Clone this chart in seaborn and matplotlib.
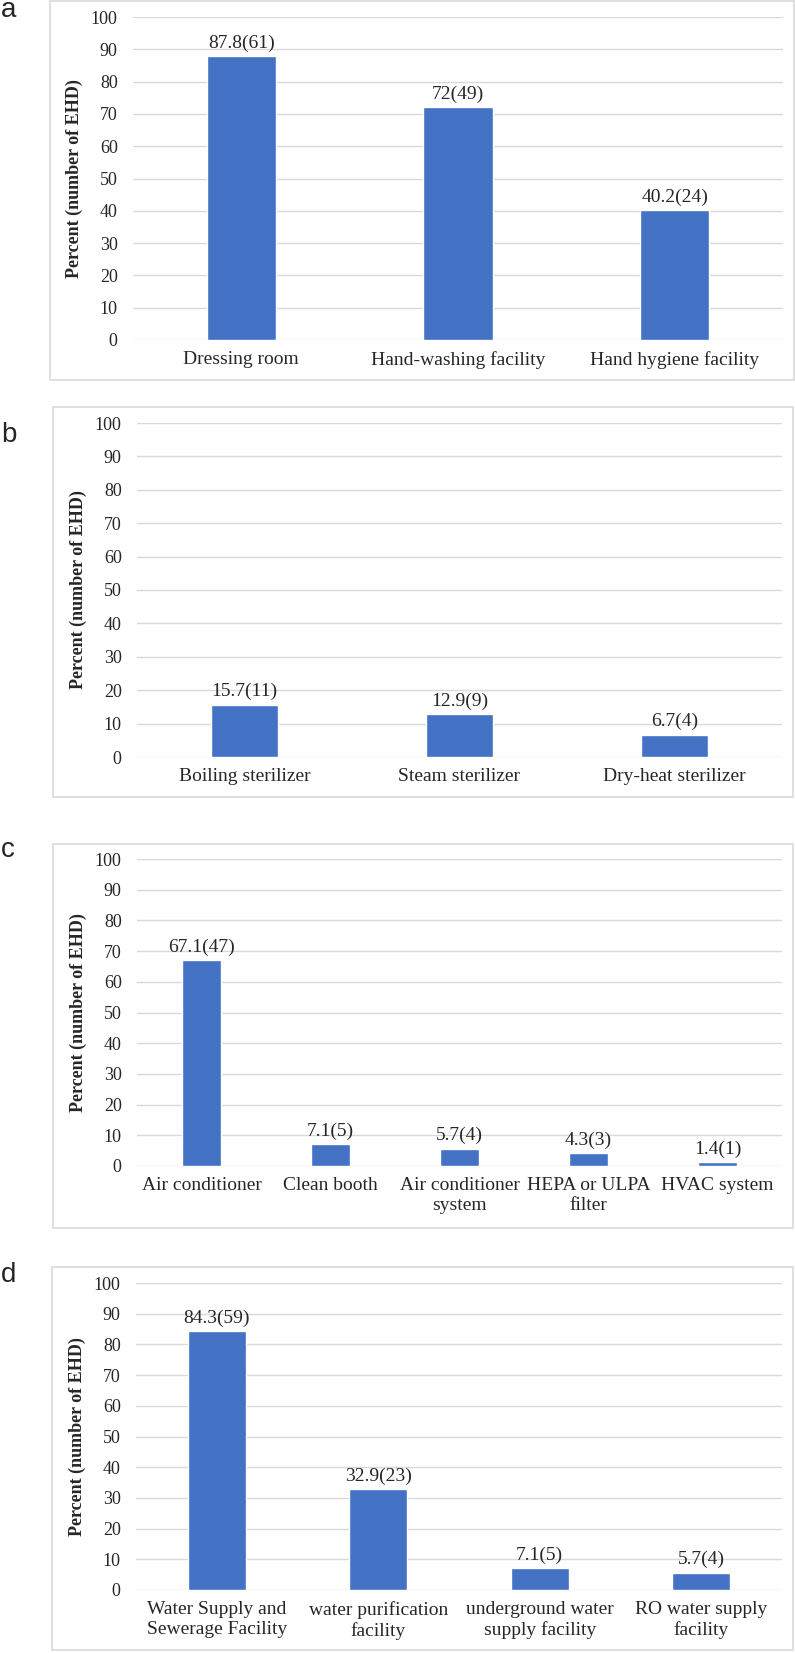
import matplotlib
matplotlib.use("Agg")
import matplotlib.pyplot as plt
import seaborn as sns
from matplotlib.patches import Rectangle

# panel data
cats_a = ["Dressing room", "Hand-washing facility", "Hand hygiene facility"]
pct_a = [87.8, 72, 40.2]
n_a = [61, 49, 24]

cats_b = ["Boiling sterilizer", "Steam sterilizer", "Dry-heat sterilizer"]
pct_b = [15.7, 12.9, 6.7]
n_b = [11, 9, 4]

cats_c = ["Air conditioner", "Clean booth", "Air conditioner\nsystem",
          "HEPA or ULPA\nfilter", "HVAC system"]
pct_c = [67.1, 7.1, 5.7, 4.3, 1.4]
n_c = [47, 5, 4, 3, 1]

cats_d = ["Water Supply and\nSewerage Facility", "water purification\nfacility",
          "underground water\nsupply facility", "RO water supply\nfacility"]
pct_d = [84.3, 32.9, 7.1, 5.7]
n_d = [59, 23, 5, 4]

yticks = list(range(0, 101, 10))

sns.set_style("white")
plt.rcParams['font.family'] = ['Liberation Serif', 'DejaVu Serif']

W, H = 795, 1653
fig = plt.figure(figsize=(W / 100, H / 100), dpi=100)
blue = "#4472C4"
grey = "#d9d9d9"

# (letter, cats, pct, n, bar width, plot box px, frame px, letter baseline)
panels = [
    ("a", cats_a, pct_a, n_a, 0.32, (133, 783, 17, 340), (50, 794, 1, 380), 17),
    ("b", cats_b, pct_b, n_b, 0.31, (137, 782, 423, 757), (53, 793, 407, 797), 442),
    ("c", cats_c, pct_c, n_c, 0.31, (137, 782, 859, 1166), (53, 793, 844, 1228), 857),
    ("d", cats_d, pct_d, n_d, 0.36, (136, 782, 1283, 1590), (52, 793, 1267, 1650), 1282),
]

for letter, cats, pct, n, bw, (l, r, t, b), (fl, fr, ft, fb), lb in panels:
    # light frame around each panel
    fig.patches.append(Rectangle((fl / W, 1 - fb / H), (fr - fl) / W, (fb - ft) / H,
                                 transform=fig.transFigure, fill=False,
                                 edgecolor=grey, linewidth=1.2))
    fig.text(1 / W, 1 - lb / H, letter, family=['Liberation Sans'], fontsize=20,
             ha="left", va="baseline")

    ax = fig.add_axes([l / W, 1 - b / H, (r - l) / W, (b - t) / H])
    sns.barplot(x=cats, y=pct, color=blue, saturation=1, width=bw, ax=ax)
    ax.bar_label(ax.containers[0], labels=[f"{p:g}({k})" for p, k in zip(pct, n)],
                 padding=3, fontsize=14)
    ax.set_ylim(0, 100)
    ax.set_yticks(yticks)
    ax.yaxis.grid(True, color=grey, linewidth=1)
    ax.set_axisbelow(True)
    for s in ax.spines.values():
        s.set_visible(False)
    ax.tick_params(axis="y", length=0, pad=11, labelsize=13)
    ax.tick_params(axis="x", length=0, pad=8, labelsize=14)
    ax.set_ylabel("Percent (number of EHD)", fontsize=13, fontweight="bold", labelpad=6)
    ax.set_xlabel("")

fig.savefig("out.png", dpi=100)
